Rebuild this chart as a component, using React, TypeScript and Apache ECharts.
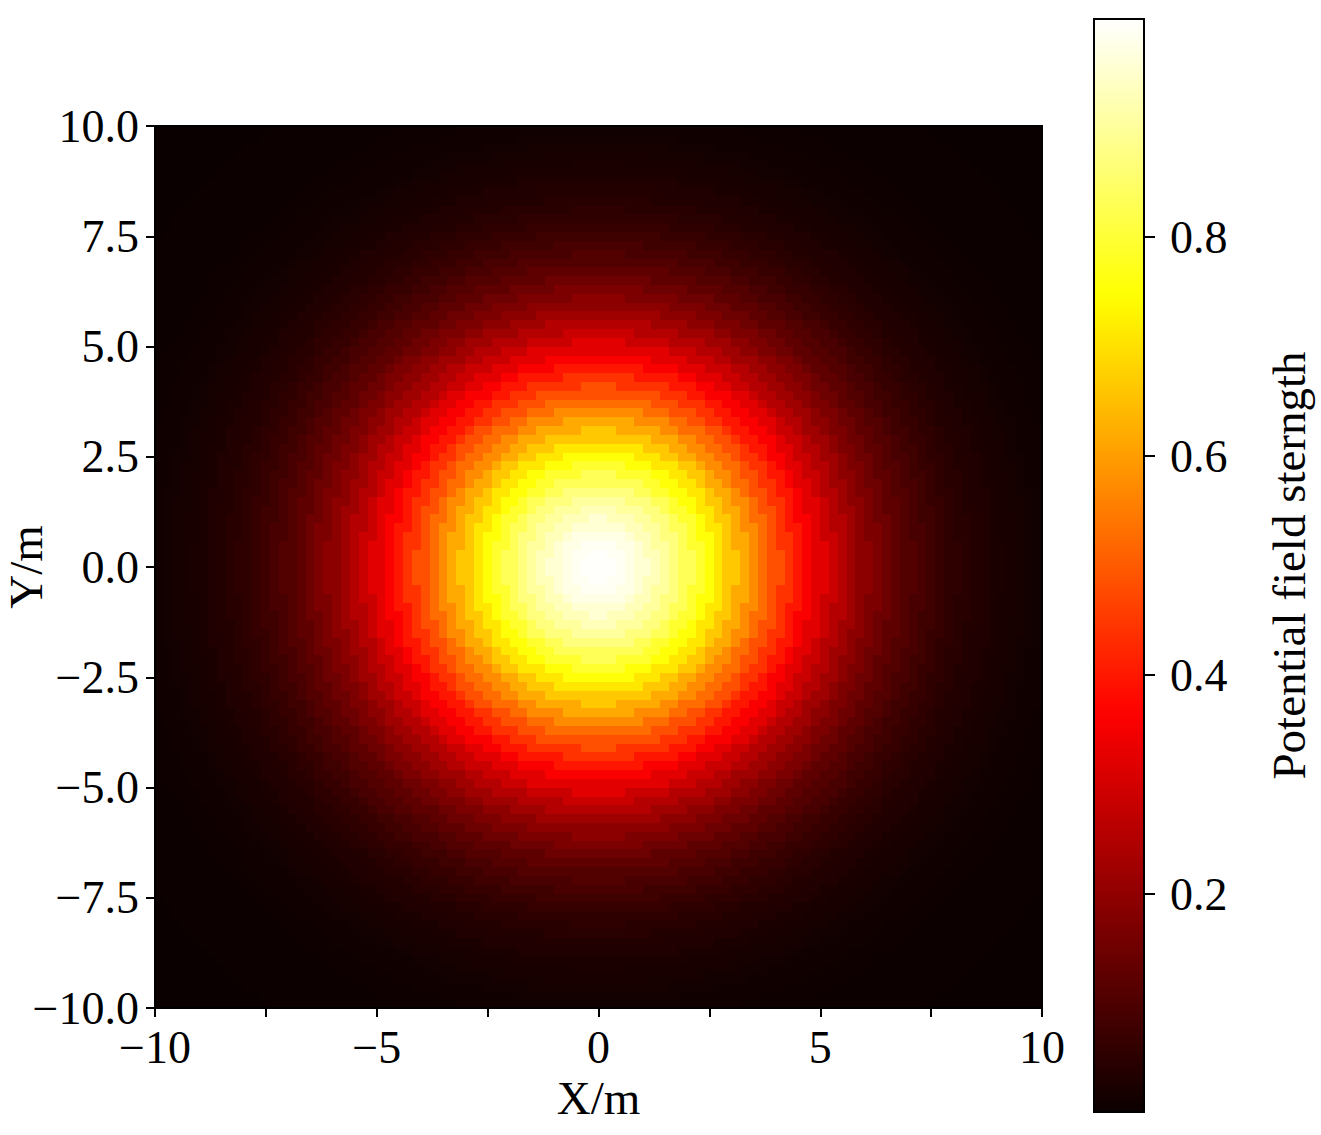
import React, { useEffect, useRef } from 'react';
import * as echarts from 'echarts';

// Axis extent (m) and number of cells per axis of the field map
const AXIS_MIN = -10;
const AXIS_MAX = 10;
const CELLS_PER_AXIS = 100;
const AXIS_TICK_STEP = 2.5;
const X_LABEL_STEP = 5;

// Radial profile of potential field strength, read from the picture's colours,
// one value every RADIAL_STEP metres from the centre (0 m .. 14.25 m)
const RADIAL_STEP = 0.25;
const radialProfile = [
  1.0, 0.997, 0.989, 0.975, 0.956, 0.931, 0.903, 0.87, 0.834, 0.794,
  0.753, 0.709, 0.664, 0.619, 0.573, 0.528, 0.483, 0.44, 0.398, 0.359,
  0.321, 0.286, 0.253, 0.222, 0.195, 0.169, 0.147, 0.126, 0.108, 0.092,
  0.078, 0.065, 0.055, 0.045, 0.037, 0.031, 0.025, 0.02, 0.0165, 0.0133,
  0.0106, 0.0084, 0.0067, 0.0052, 0.0041, 0.0032, 0.0024, 0.0019, 0.0014, 0.0011,
  0.0008, 0.0006, 0.0005, 0.0003, 0.00025, 0.00019, 0.00014, 0.0001,
];

// Colour bar
const COLORBAR_MIN = 0;
const COLORBAR_MAX = 1;
const colorbarTicks = [0.2, 0.4, 0.6, 0.8];
const colorbarTitle = 'Potential field sterngth';
const xTitle = 'X/m';
const yTitle = 'Y/m';

const FONT = '"Liberation Serif", "Times New Roman", serif';

// matplotlib "hot" colormap
function hot(t: number): string {
  const r = Math.min(1, 0.0416 + (t / 0.365079) * (1 - 0.0416));
  const g = t < 0.365079 ? 0 : Math.min(1, (t - 0.365079) / (0.746032 - 0.365079));
  const b = t < 0.746032 ? 0 : Math.min(1, (t - 0.746032) / (1 - 0.746032));
  const h = (v: number) => Math.round(v * 255).toString(16).padStart(2, '0');
  return '#' + h(r) + h(g) + h(b);
}

const minus = (v: number, digits: number) =>
  (v < 0 ? '\u2212' : '') + Math.abs(v).toFixed(digits);

export default function App() {
  const ref = useRef<HTMLDivElement>(null);

  useEffect(() => {
    if (!ref.current) return;
    const chart = echarts.init(ref.current, undefined, { renderer: 'svg' });

    const cellSize = (AXIS_MAX - AXIS_MIN) / CELLS_PER_AXIS;
    const cats = Array.from({ length: CELLS_PER_AXIS }, (_, i) => String(i));
    const data: number[][] = [];
    for (let i = 0; i < CELLS_PER_AXIS; i++) {
      const x = AXIS_MIN + cellSize * (i + 0.5);
      for (let j = 0; j < CELLS_PER_AXIS; j++) {
        const y = AXIS_MIN + cellSize * (j + 0.5);
        const r = Math.sqrt(x * x + y * y);
        const idx = Math.min(radialProfile.length - 1, Math.round(r / RADIAL_STEP));
        data.push([i, j, radialProfile[idx]]);
      }
    }

    const hotColors = Array.from({ length: 257 }, (_, k) => hot(k / 256));
    const gradStops = Array.from({ length: 65 }, (_, k) => ({ offset: k / 64, color: hot(k / 64) }));

    const axisFont = { fontFamily: FONT, fontSize: 46, color: '#000' };
    const titleFont = { fontFamily: FONT, fontSize: 47, color: '#000' };
    const lineStyle = { color: '#000', width: 2 };

    chart.setOption({
      animation: false,
      backgroundColor: '#fff',
      grid: [
        { left: 155, top: 126, width: 887, height: 882, outerBoundsMode: 'none', containLabel: false },
        { left: 1093, top: 18, width: 52, height: 1095, outerBoundsMode: 'none', containLabel: false },
      ],
      visualMap: {
        show: false,
        type: 'continuous',
        min: COLORBAR_MIN,
        max: COLORBAR_MAX,
        dimension: 2,
        seriesIndex: 0,
        inRange: { color: hotColors },
      },
      xAxis: [
        { type: 'category', gridIndex: 0, data: cats, show: false },
        {
          type: 'value', gridIndex: 0, position: 'bottom', min: AXIS_MIN, max: AXIS_MAX,
          interval: AXIS_TICK_STEP, z: 10,
          axisLine: { show: true, onZero: false, lineStyle },
          axisTick: { show: true, inside: false, length: 9, lineStyle: { color: '#000', width: 1.5 } },
          axisLabel: {
            ...axisFont, margin: 16,
            formatter: (v: number) => (Math.abs(v % X_LABEL_STEP) < 1e-9 ? minus(v, 0) : ''),
          },
          splitLine: { show: false },
          name: xTitle, nameLocation: 'middle', nameGap: 66, nameMoveOverlap: false,
          nameTextStyle: { ...titleFont },
        },
        {
          type: 'value', gridIndex: 0, position: 'top', min: AXIS_MIN, max: AXIS_MAX, z: 10,
          axisLine: { show: true, onZero: false, lineStyle }, axisTick: { show: false },
          axisLabel: { show: false }, splitLine: { show: false },
        },
        { type: 'category', gridIndex: 1, data: ['bar'], show: false },
      ],
      yAxis: [
        { type: 'category', gridIndex: 0, data: cats, show: false },
        {
          type: 'value', gridIndex: 0, position: 'left', min: AXIS_MIN, max: AXIS_MAX,
          interval: AXIS_TICK_STEP, z: 10,
          axisLine: { show: true, onZero: false, lineStyle },
          axisTick: { show: true, inside: false, length: 9, lineStyle: { color: '#000', width: 1.5 } },
          axisLabel: { ...axisFont, margin: 16, formatter: (v: number) => minus(v, 1) },
          splitLine: { show: false },
          name: yTitle, nameLocation: 'middle', nameGap: 106, nameRotate: 90, nameMoveOverlap: false,
          nameTextStyle: { ...titleFont },
        },
        {
          type: 'value', gridIndex: 0, position: 'right', min: AXIS_MIN, max: AXIS_MAX, z: 10,
          axisLine: { show: true, onZero: false, lineStyle }, axisTick: { show: false },
          axisLabel: { show: false }, splitLine: { show: false },
        },
        {
          type: 'value', gridIndex: 1, position: 'right', min: COLORBAR_MIN, max: COLORBAR_MAX, z: 10,
          axisLine: { show: false, onZero: false },
          axisTick: {
            show: true, inside: false, length: 10, customValues: colorbarTicks,
            lineStyle: { color: '#000', width: 1.5 },
          },
          axisLabel: {
            ...axisFont, margin: 25, customValues: colorbarTicks,
            formatter: (v: number) => v.toFixed(1),
          },
          splitLine: { show: false },
          name: colorbarTitle, nameLocation: 'middle', nameGap: 120, nameRotate: 90, nameMoveOverlap: false,
          nameTextStyle: { ...titleFont },
        },
      ],
      series: [
        {
          type: 'heatmap',
          xAxisIndex: 0, yAxisIndex: 0,
          data,
          progressive: 0,
          emphasis: { disabled: true },
          itemStyle: { borderWidth: 0 },
        },
        {
          type: 'bar',
          xAxisIndex: 3, yAxisIndex: 3,
          data: [COLORBAR_MAX],
          barWidth: '100%',
          silent: true,
          itemStyle: {
            color: new echarts.graphic.LinearGradient(0, 1, 0, 0, gradStops),
            borderColor: '#000', borderWidth: 2,
          },
        },
      ],
    });

    return () => chart.dispose();
  }, []);

  return (
    <>
      <style>{`.field-chart svg path { shape-rendering: crispEdges; }`}</style>
      <div
        ref={ref}
        className="field-chart"
        style={{ position: 'fixed', left: 0, top: 0, width: 1321, height: 1135, background: '#fff' }}
      />
    </>
  );
}
